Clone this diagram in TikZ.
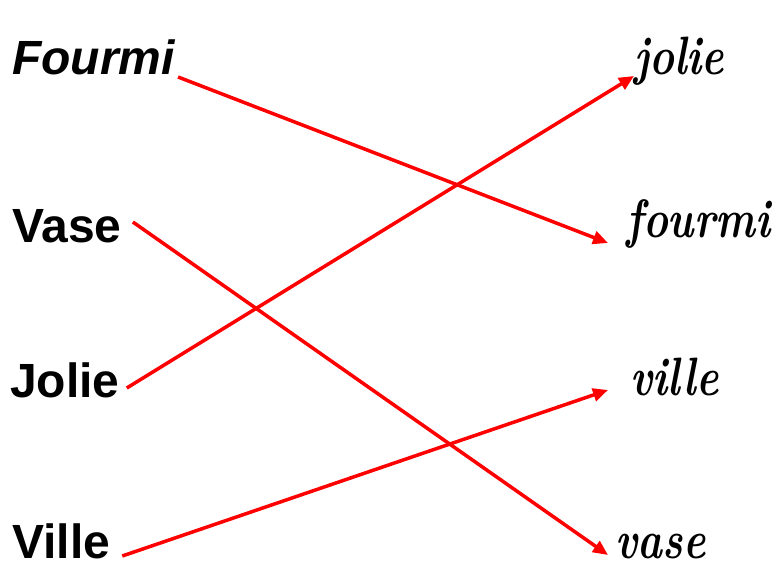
\documentclass[tikz,border=0pt]{standalone}
\usepackage{fontspec}
\newfontfamily\motfont{Liberation Sans}
\usetikzlibrary{arrows.meta}

\tikzset{
  mot/.style={font=\motfont\fontsize{48}{56}\selectfont\bfseries, inner sep=0pt, anchor=base west},
  cursif/.style={font=\fontsize{54}{62}\selectfont\bfseries\itshape, inner sep=0pt, anchor=base west},
  fleche/.style={red, line width=3.5pt, -{Triangle[length=15pt,width=13pt]}}
}

\begin{document}
\begin{tikzpicture}[x=1pt,y=-1pt]
\useasboundingbox (0,0) rectangle (777,567);

% mots en script
\node[mot] (fourmiG) at (12,75) {\itshape Fourmi};
\node[mot] (vaseG) at (12,243) {Vase};
\node[mot] (jolieG) at (10,397) {Jolie};
\node[mot] (villeG) at (12,558) {Ville};

% mots en cursive
\node[cursif] (jolieD) at (634,75) {\scalebox{0.78}[1]{jolie}};
\node[cursif] (fourmiD) at (626,237) {\scalebox{0.78}[1]{fourmi}};
\node[cursif] (villeD) at (630,395) {\scalebox{0.78}[1]{ville}};
\node[cursif] (vaseD) at (615,558) {\scalebox{0.78}[1]{vase}};

% flèches
\draw[fleche] ([shift={(3,2)}]fourmiG.base east) -- ([shift={(-18,6)}]fourmiD.base west);
\draw[fleche] ([shift={(11,-21)}]vaseG.base east) -- ([shift={(-7,-3)}]vaseD.base west);
\draw[fleche] ([shift={(7,-9)}]jolieG.base east) -- ([shift={(0,1)}]jolieD.base west);
\draw[fleche] ([shift={(12,-2)}]villeG.base east) -- ([shift={(-22,-5)}]villeD.base west);

\end{tikzpicture}
\end{document}
